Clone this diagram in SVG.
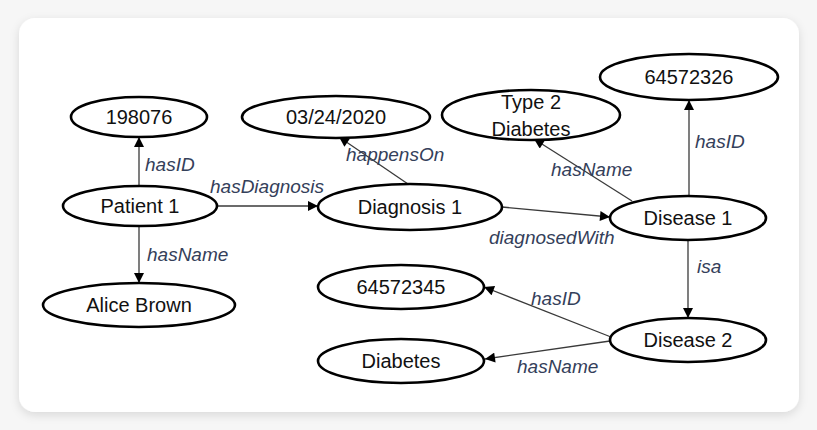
<svg xmlns="http://www.w3.org/2000/svg" width="817" height="430" viewBox="0 0 817 430">
<defs>
<style>
.node ellipse{fill:#fff;stroke:#000;stroke-width:2.6}
.node text{font-family:"Liberation Sans",Arial,sans-serif;font-size:20px;fill:#111;text-anchor:middle;dominant-baseline:central}
.edge{stroke:#3a3a3a;stroke-width:1.3;fill:none;marker-end:url(#arr)}
.lbl{font-family:"Liberation Sans",Arial,sans-serif;font-style:italic;font-size:19px;fill:#34405a}
</style>
<marker id="arr" viewBox="0 0 10 10" refX="10" refY="5" markerWidth="11" markerHeight="10" markerUnits="userSpaceOnUse" orient="auto">
<path d="M0,0 L10,5 L0,10 Z" fill="#000"/>
</marker>
<filter id="sh" x="-5%" y="-5%" width="110%" height="115%">
<feDropShadow dx="0" dy="3" stdDeviation="5" flood-color="#000" flood-opacity="0.12"/>
</filter>
</defs>
<rect width="817" height="430" fill="#f6f6f6"/>
<rect x="19" y="18" width="780" height="394" rx="16" fill="#fff" filter="url(#sh)"/>
<g id="connectors">
<line class="edge" x1="139" y1="186" x2="139" y2="137"/>
<line class="edge" x1="139" y1="226" x2="139" y2="283"/>
<line class="edge" x1="217" y1="206" x2="318" y2="206"/>
<line class="edge" x1="408" y1="184" x2="339" y2="137"/>
<line class="edge" x1="502" y1="207" x2="610" y2="217"/>
<line class="edge" x1="632" y1="201" x2="534" y2="139"/>
<line class="edge" x1="689" y1="196" x2="689" y2="100"/>
<line class="edge" x1="688" y1="240" x2="688" y2="318"/>
<line class="edge" x1="611" y1="337" x2="484" y2="287"/>
<line class="edge" x1="610" y1="341" x2="485" y2="359"/>
<text class="lbl" x="145" y="171">hasID</text>
<text class="lbl" x="147" y="261">hasName</text>
<text class="lbl" x="210" y="193">hasDiagnosis</text>
<text class="lbl" x="346" y="161">happensOn</text>
<text class="lbl" x="489" y="244">diagnosedWith</text>
<text class="lbl" x="551" y="176">hasName</text>
<text class="lbl" x="695" y="148">hasID</text>
<text class="lbl" x="697" y="273">isa</text>
<text class="lbl" x="531" y="305">hasID</text>
<text class="lbl" x="517" y="373">hasName</text>
</g>
<g id="n198076" class="node"><ellipse cx="139" cy="117" rx="68" ry="20"/><text x="139" y="117">198076</text></g>
<g id="ndate" class="node"><ellipse cx="336" cy="117" rx="94" ry="21"/><text x="336" y="117">03/24/2020</text></g>
<g id="patient1" class="node"><ellipse cx="140" cy="206" rx="77" ry="20"/><text x="140" y="206">Patient 1</text></g>
<g id="alicebrown" class="node"><ellipse cx="139" cy="305" rx="96" ry="22"/><text x="139" y="305">Alice Brown</text></g>
<g id="diagnosis1" class="node"><ellipse cx="410" cy="207" rx="92" ry="23"/><text x="410" y="207">Diagnosis 1</text></g>
<g id="type2diabetes" class="node"><ellipse cx="531" cy="115" rx="89" ry="25"/><text x="531" y="102">Type 2</text><text x="531" y="129">Diabetes</text></g>
<g id="n64572326" class="node"><ellipse cx="689" cy="77" rx="89" ry="23"/><text x="689" y="77">64572326</text></g>
<g id="disease1" class="node"><ellipse cx="688" cy="218" rx="78" ry="22"/><text x="688" y="218">Disease 1</text></g>
<g id="n64572345" class="node"><ellipse cx="401" cy="287" rx="83" ry="22"/><text x="401" y="287">64572345</text></g>
<g id="diabetes" class="node"><ellipse cx="401" cy="361" rx="83" ry="22"/><text x="401" y="361">Diabetes</text></g>
<g id="disease2" class="node"><ellipse cx="688" cy="340" rx="78" ry="22"/><text x="688" y="340">Disease 2</text></g>
</svg>
